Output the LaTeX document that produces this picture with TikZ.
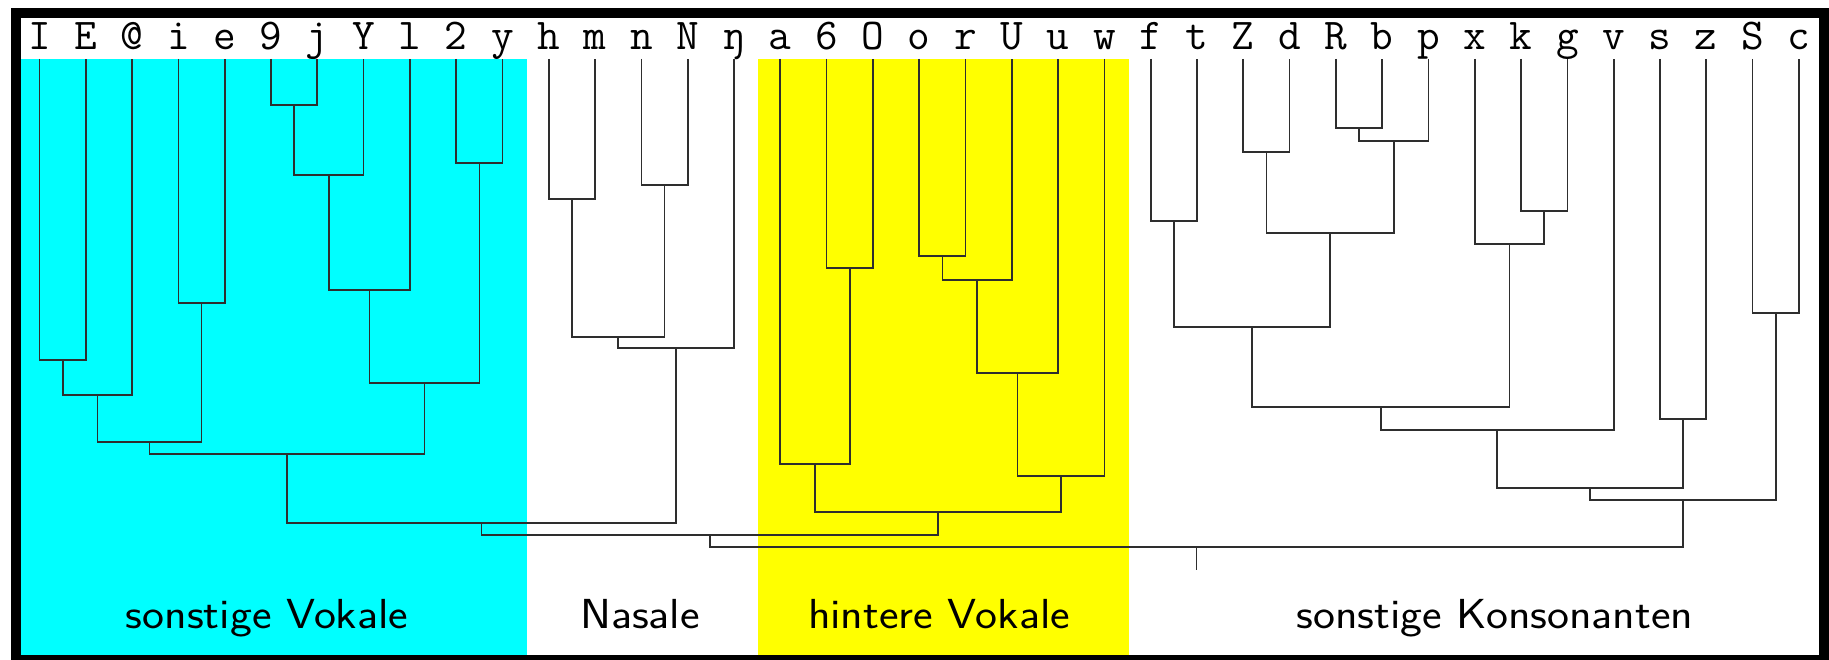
\documentclass[tikz,border=0pt]{standalone}
\usepackage{fontspec}
\definecolor{cy}{RGB}{0,255,255}
\definecolor{ye}{RGB}{255,255,0}
\tikzset{
  dline/.style={draw=black!82,line width=1.7pt},
  leaf/.style={font=\fontsize{44}{50}\selectfont\ttfamily,anchor=base,inner sep=0pt},
  grouplabel/.style={font=\fontsize{42}{48}\selectfont\sffamily,anchor=base,inner sep=0pt,xscale=1.11}
}
\newcommand\dmerge[4]{%
  \path (#2) -- (#3) coordinate[pos=0.5] (h#1);
  \coordinate (y#1) at (0,#4);
  \coordinate (#1) at (h#1 |- y#1);
  \draw[dline] (#2) |- (#1) -| (#3);}
\begin{document}
\begin{tikzpicture}[x=1pt,y={(0pt,-1pt)}]
\useasboundingbox (0,0) rectangle (1829,660);
\fill[white] (0,0) rectangle (1829,660);
% group backgrounds
\fill[cy] (20,59) rectangle (527,655);
\fill[ye] (758,59) rectangle (1129,655);
% leaves
\foreach \i/\s in {0/I,1/E,2/@,3/i,4/e,5/9,6/j,7/Y,8/l,9/2,10/y,11/h,12/m,13/n,14/N,15/ŋ,16/a,17/6,18/O,19/o,20/r,21/U,22/u,23/w,24/f,25/t,26/Z,27/d,28/R,29/b,30/p,31/x,32/k,33/g,34/v,35/s,36/z,37/S,38/c}{
  \node[leaf] (L\i) at ({39.5+46.3*\i},49.5) {\s};
  \coordinate (t\i) at ({39.5+46.3*\i},59);
}
% sonstige Vokale
\dmerge{c1}{t5}{t6}{105}
\dmerge{c2}{t9}{t10}{163}
\dmerge{c3}{c1}{t7}{175}
\dmerge{c4}{c3}{t8}{290}
\dmerge{c5}{c4}{c2}{383}
\dmerge{c6}{t0}{t1}{360}
\dmerge{c7}{c6}{t2}{395}
\dmerge{c8}{t3}{t4}{303}
\dmerge{c9}{c7}{c8}{442}
\dmerge{c10}{c9}{c5}{454}
% Nasale
\dmerge{n1}{t11}{t12}{199}
\dmerge{n2}{t13}{t14}{185}
\dmerge{n3}{n1}{n2}{337}
\dmerge{n4}{n3}{t15}{348}
\dmerge{V}{c10}{n4}{523}
% hintere Vokale
\dmerge{v1}{t17}{t18}{268}
\dmerge{v2}{t16}{v1}{464}
\dmerge{v3}{t19}{t20}{256}
\dmerge{v4}{v3}{t21}{280}
\dmerge{v5}{v4}{t22}{373}
\dmerge{v6}{v5}{t23}{476}
\dmerge{v7}{v2}{v6}{512}
\dmerge{W}{V}{v7}{535}
% sonstige Konsonanten
\dmerge{k1}{t24}{t25}{221}
\dmerge{k2}{t26}{t27}{152}
\dmerge{k3}{t28}{t29}{128}
\dmerge{k4}{k3}{t30}{141}
\dmerge{k5}{k2}{k4}{233}
\dmerge{k6}{k1}{k5}{327}
\dmerge{k7}{t32}{t33}{211}
\dmerge{k8}{t31}{k7}{244}
\dmerge{k9}{k6}{k8}{407}
\dmerge{k10}{k9}{t34}{430}
\dmerge{k11}{t35}{t36}{419}
\dmerge{k12}{k10}{k11}{488}
\dmerge{k13}{t37}{t38}{313}
\dmerge{k14}{k12}{k13}{500}
% root
\dmerge{R}{W}{k14}{547}
\coordinate (yre) at (0,570);
\coordinate (re) at (R |- yre);
\draw[dline] (R) -- (re);
% group labels
\node[grouplabel] (g1) at (267,628) {sonstige Vokale};
\node[grouplabel] (g2) at (640,628) {Nasale};
\node[grouplabel] (g3) at (939,628) {hintere Vokale};
\node[grouplabel] (g4) at (1495,628) {sonstige Konsonanten};
% frame
\draw[black,line width=10pt] (15.5,13) rectangle (1824,660);
\end{tikzpicture}
\end{document}
